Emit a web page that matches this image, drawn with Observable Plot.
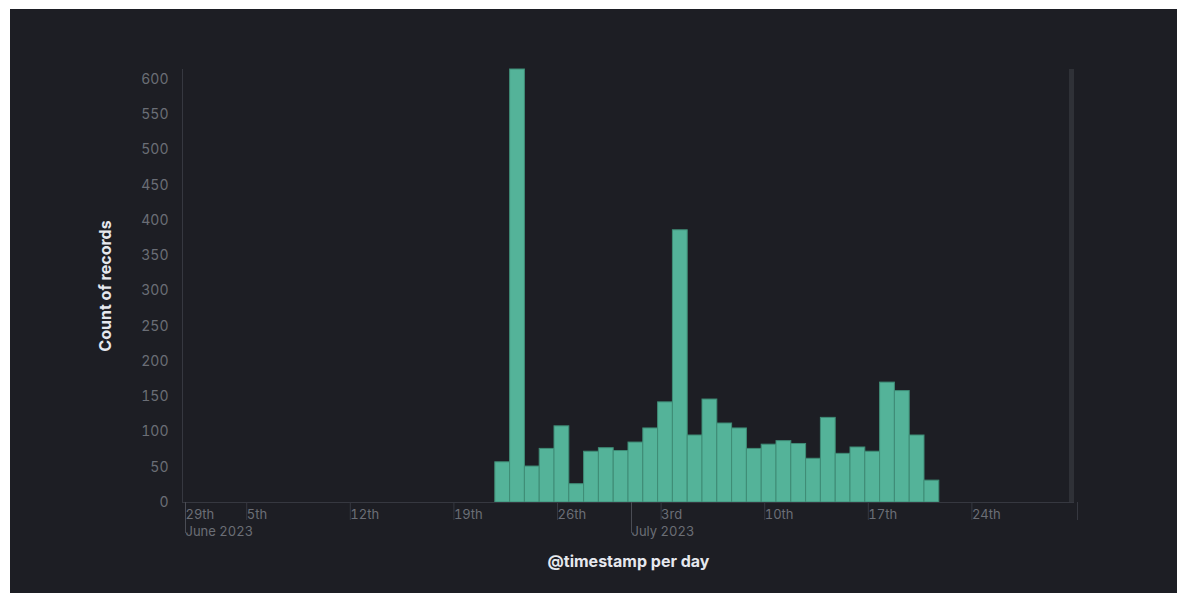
<!DOCTYPE html>
<html><head><meta charset="utf-8">
<script src="https://cdn.jsdelivr.net/npm/d3@7"></script>
<script src="https://cdn.jsdelivr.net/npm/@observablehq/plot@0.6"></script>
<style>
html,body{margin:0;padding:0;background:#ffffff;}
#panel{position:absolute;left:10px;top:9px;width:1167px;height:584px;background:#1d1e24;overflow:hidden;}
</style></head><body><div id="panel"></div>
<script>
// Daily record counts
const days = ["2023-06-22","2023-06-23","2023-06-24","2023-06-25","2023-06-26","2023-06-27","2023-06-28","2023-06-29","2023-06-30",
  "2023-07-01","2023-07-02","2023-07-03","2023-07-04","2023-07-05","2023-07-06","2023-07-07","2023-07-08","2023-07-09","2023-07-10",
  "2023-07-11","2023-07-12","2023-07-13","2023-07-14","2023-07-15","2023-07-16","2023-07-17","2023-07-18","2023-07-19","2023-07-20","2023-07-21"];
const counts = [57, 614, 51, 76, 108, 26, 72, 77, 73,
  85, 105, 142, 386, 95, 146, 112, 105, 76, 82,
  87, 83, 62, 120, 69, 78, 72, 170, 158, 95, 31];

const xDomain = ["2023-05-31T20:45:00Z", "2023-07-31T03:15:00Z"];
const yTicks = [0, 50, 100, 150, 200, 250, 300, 350, 400, 450, 500, 550, 600];
const xTickLabels = ["29th", "5th", "12th", "19th", "26th", "3rd", "10th", "17th", "24th", ""];
const xTickDates = ["2023-05-31T20:45:00Z", "2023-06-05", "2023-06-12", "2023-06-19", "2023-06-26", "2023-07-03", "2023-07-10", "2023-07-17", "2023-07-24", "2023-07-31T03:15:00Z"];
const monthLabels = ["June 2023", "July 2023"];
const monthDates = ["2023-05-31T20:45:00Z", "2023-07-01"];
const yLabel = "Count of records";
const xLabel = "@timestamp per day";

const table = days.map((d, i) => ({start: new Date(d), end: d3.utcDay.offset(new Date(d), 1), count: counts[i]}));
const xStart = new Date(xDomain[0]), xEnd = new Date(xDomain[1]);
const dayTicks = xTickDates.map(d => new Date(d));
const dayMap = new Map(dayTicks.map((d, i) => [+d, xTickLabels[i]]));
const monthTicks = monthDates.map(d => new Date(d));
const monthMap = new Map(monthTicks.map((d, i) => [+d, monthLabels[i]]));

const tickColor = "#6b6e76";
const lineColor = "#363840";

const chart = Plot.plot({
  width: 1167,
  height: 584,
  marginLeft: 172,
  marginRight: 103,
  marginTop: 60,
  marginBottom: 91,
  style: {background: "transparent", fontFamily: "Inter, 'Noto Sans', sans-serif"},
  x: {type: "utc", domain: [xStart, xEnd]},
  y: {domain: [0, 614]},
  marks: [
    Plot.ruleX([xStart], {stroke: lineColor}),
    Plot.ruleX([xEnd], {stroke: "#2f3137", strokeWidth: 5, dx: -3}),
    Plot.rectY(table, {x1: "start", x2: "end", y: "count", fill: "#54b399", stroke: "#3f8c76", strokeWidth: 1}),
    Plot.ruleY([0], {stroke: lineColor}),
    Plot.axisY({ticks: yTicks, tickSize: 0, tickPadding: 14, fill: tickColor, fontSize: 14, label: null}),
    Plot.axisX({ticks: dayTicks, tickSize: 18, tickPadding: -11, tickFormat: d => dayMap.get(+d), textAnchor: "start", dx: 3,
      stroke: lineColor, fill: tickColor, fontSize: 13, label: null}),
    Plot.axisX({ticks: monthTicks, tickSize: 31, tickPadding: -7, tickFormat: d => monthMap.get(+d), textAnchor: "start", dx: 3,
      stroke: "#4a4c54", fill: tickColor, fontSize: 13, label: null}),
    Plot.text([yLabel], {frameAnchor: "left", dx: -77, rotate: -90, textAnchor: "middle", lineAnchor: "middle", fill: "#e6e8ee", fontSize: 16, fontWeight: "bold"}),
    Plot.text([xLabel], {frameAnchor: "bottom", dy: 59, textAnchor: "middle", lineAnchor: "middle", fill: "#e6e8ee", fontSize: 16, fontWeight: "bold"})
  ]
});
document.getElementById("panel").appendChild(chart);
</script>
</body></html>
